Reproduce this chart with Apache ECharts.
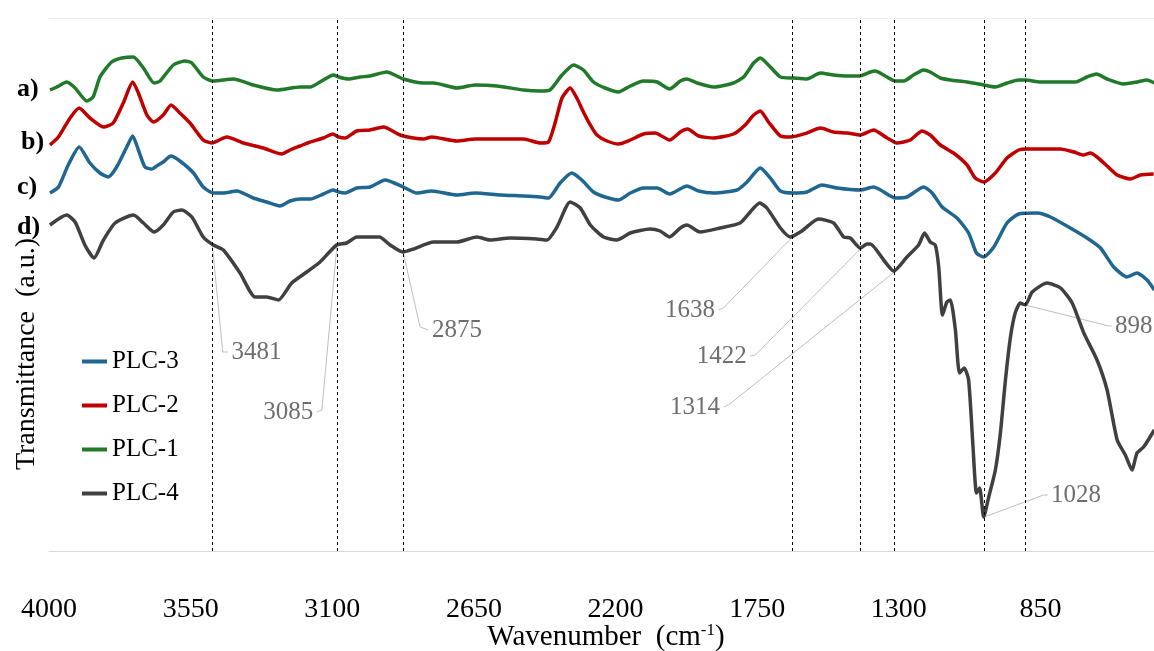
<!DOCTYPE html>
<html>
<head>
<meta charset="utf-8">
<script src="https://cdn.jsdelivr.net/npm/echarts@6/dist/echarts.min.js"></script>
<style>
  html, body { margin: 0; padding: 0; background: #fff; }
  #chart { width: 1154px; height: 651px; }
</style>
</head>
<body>
<div id="chart"></div>
<script>
// FTIR spectra, [wavenumber (cm-1), transmittance (a.u., offset)]
var plc1 = [[3997,461],[3975,464],[3944,469],[3917,463],[3880,450],[3860,454],[3838,474],[3801,489],[3768,493],[3732,494],[3700,483],[3666,468],[3647,470],[3605,486],[3568,490],[3546,488],[3510,474],[3478,470],[3414,472],[3351,466],[3276,461],[3202,464],[3170,464],[3139,469],[3096,476],[3080,474],[3049,472],[3011,474],[2980,475],[2927,479],[2874,472],[2810,468],[2778,468],[2704,463],[2646,466],[2577,465],[2492,461],[2439,460],[2408,461],[2370,476],[2333,486],[2302,481],[2270,469],[2233,463],[2190,459],[2153,465],[2111,470],[2068,469],[2028,462],[1994,470],[1973,472],[1941,468],[1888,464],[1825,468],[1793,474],[1761,488],[1740,493],[1708,484],[1676,474],[1634,473],[1592,472],[1549,478],[1507,476],[1464,475],[1424,475],[1390,479],[1374,480],[1348,476],[1311,470],[1284,470],[1253,476],[1221,481],[1200,479],[1168,473],[1136,471],[1083,469],[1030,466],[993,464],[956,468],[919,471],[898,471],[850,469],[797,469],[739,469],[702,474],[672,477],[638,472],[585,467],[543,469],[511,471],[488,468]];

var plc2 = [[3997,406],[3970,414],[3933,433],[3904,443],[3870,433],[3827,424],[3796,428],[3764,448],[3734,469],[3716,458],[3689,436],[3668,429],[3637,436],[3612,446],[3584,438],[3552,428],[3510,411],[3483,408],[3435,414],[3382,408],[3319,403],[3260,397],[3234,401],[3202,405],[3170,409],[3128,413],[3098,417],[3080,414],[3059,413],[3022,420],[2980,421],[2937,424],[2884,416],[2842,413],[2810,412],[2784,414],[2704,410],[2646,412],[2566,412],[2492,412],[2439,408],[2413,409],[2392,428],[2370,453],[2344,463],[2323,453],[2302,439],[2280,426],[2259,416],[2227,410],[2190,407],[2153,411],[2111,417],[2074,418],[2028,411],[1994,419],[1971,422],[1936,415],[1888,413],[1825,417],[1788,426],[1761,436],[1740,440],[1714,429],[1676,415],[1645,414],[1592,418],[1549,423],[1507,419],[1464,418],[1422,416],[1380,421],[1337,413],[1306,408],[1263,411],[1226,420],[1200,416],[1168,406],[1126,398],[1083,386],[1057,373],[1030,369],[993,378],[956,393],[919,401],[892,402],[840,402],[786,402],[744,399],[712,396],[691,398],[670,394],[638,385],[606,376],[564,372],[532,376],[490,377]];

var plc3 = [[3997,358],[3970,364],[3939,386],[3904,404],[3870,388],[3838,378],[3812,374],[3785,384],[3753,404],[3734,415],[3716,401],[3695,384],[3674,382],[3653,386],[3637,389],[3613,395],[3584,390],[3541,378],[3510,364],[3478,358],[3446,358],[3403,360],[3351,353],[3308,349],[3266,345],[3234,350],[3202,352],[3170,352],[3128,357],[3098,361],[3080,359],[3059,358],[3022,363],[2980,364],[2932,371],[2874,364],[2831,358],[2784,360],[2704,356],[2646,358],[2566,356],[2492,355],[2439,354],[2413,353],[2376,368],[2339,378],[2307,371],[2270,359],[2233,354],[2190,351],[2153,358],[2111,363],[2068,363],[2028,357],[1973,365],[1936,360],[1888,358],[1814,361],[1782,369],[1740,383],[1708,373],[1676,360],[1634,358],[1592,359],[1544,366],[1496,363],[1422,361],[1380,364],[1358,361],[1311,353],[1274,354],[1221,364],[1194,358],[1162,344],[1115,333],[1078,318],[1053,298],[1030,294],[998,304],[956,328],[919,337],[860,338],[818,334],[755,323],[702,313],[659,303],[617,284],[575,274],[543,278],[511,271],[488,261]];

var plc4 = [[3997,326],[3944,336],[3917,329],[3886,306],[3857,293],[3827,311],[3790,328],[3732,336],[3700,328],[3666,319],[3637,326],[3605,339],[3578,341],[3546,334],[3510,314],[3478,306],[3446,301],[3393,278],[3345,254],[3308,254],[3271,251],[3229,268],[3181,279],[3139,289],[3086,306],[3054,308],[3022,314],[2990,314],[2950,314],[2916,306],[2876,299],[2842,302],[2778,309],[2704,309],[2641,314],[2598,311],[2535,313],[2450,312],[2418,311],[2386,324],[2344,349],[2312,343],[2280,326],[2238,314],[2196,311],[2153,318],[2090,322],[2058,320],[2028,314],[1994,323],[1973,326],[1931,319],[1867,323],[1804,328],[1772,339],[1742,348],[1719,343],[1676,323],[1645,314],[1608,320],[1555,332],[1507,328],[1475,314],[1454,313],[1422,303],[1401,307],[1390,307],[1348,291],[1316,280],[1274,294],[1237,306],[1218,318],[1200,309],[1184,306],[1173,284],[1161,236],[1147,249],[1136,251],[1120,221],[1107,178],[1092,183],[1078,171],[1064,104],[1053,58],[1043,63],[1030,34],[1014,54],[993,81],[977,118],[961,171],[945,214],[930,238],[914,248],[898,246],[876,259],[829,268],[786,263],[749,248],[712,218],[670,191],[638,161],[606,111],[580,96],[559,81],[543,98],[522,104],[488,121]];

// marked bands
var peakLines = [3481, 3085, 2875, 1638, 1422, 1314, 1028, 898];
var annoText = ['3481', '3085', '2875', '1638', '1422', '1314', '1028', '898'];
var annoPeak = [[3481,306],[3085,306],[2875,299],[1638,314],[1422,302],[1314,279],[1028,34],[898,246]];
var annoBend = [[3448,199],[3133,141],[2821,224],[1857,243],[1756,196],[1841,146],[840,56],[633,225]];
var annoEnd = [[3431,199],[3149,139],[2794,221],[1873,241],[1772,195],[1857,144],[827,56],[624,225]];
var annoSide = ['right', 'left', 'right', 'left', 'left', 'left', 'right', 'right'];

var serif = "'Liberation Serif', 'Times New Roman', serif";
var chart = echarts.init(document.getElementById('chart'));

function spectrum(name, color, data, extra) {
  var s = {
    name: name,
    type: 'line',
    data: data,
    showSymbol: false,
    smooth: 0.2,
    lineStyle: { color: color, width: 3.5 },
    itemStyle: { color: color },
    emphasis: { disabled: true },
    z: 3
  };
  return Object.assign(s, extra || {});
}

var series = [
  spectrum('PLC-3', '#1f6790', plc3, {
    markLine: {
      silent: true,
      symbol: ['none', 'none'],
      label: { show: false },
      lineStyle: { color: '#000', type: [3, 3], width: 1 },
      data: peakLines.map(function (v) { return { xAxis: v }; })
    }
  }),
  spectrum('PLC-2', '#c00000', plc2),
  spectrum('PLC-1', '#21792a', plc1),
  spectrum('PLC-4', '#404040', plc4)
];

// leader lines for the band labels
annoText.forEach(function (t, i) {
  series.push({
    type: 'line',
    data: [annoPeak[i], annoBend[i], annoEnd[i]],
    symbol: 'none',
    silent: true,
    lineStyle: { color: '#bfbfbf', width: 1 },
    z: 2
  });
});

series.push({
  type: 'scatter',
  symbolSize: 1,
  silent: true,
  itemStyle: { color: 'rgba(0,0,0,0)' },
  label: {
    show: true,
    formatter: '{b}',
    fontFamily: serif,
    fontSize: 25,
    color: '#4a4a4a',
    distance: 3
  },
  data: annoText.map(function (t, i) {
    return { name: t, value: annoEnd[i], label: { position: annoSide[i] } };
  })
});

chart.setOption({
  animation: false,
  backgroundColor: '#fff',
  grid: { left: 49, top: 18, width: 1133, height: 533, outerBoundsMode: 'none', containLabel: false },
  legend: {
    data: ['PLC-3', 'PLC-2', 'PLC-1', 'PLC-4'],
    orient: 'vertical',
    left: 77,
    top: 344,
    icon: 'rect',
    itemWidth: 25,
    itemHeight: 4,
    itemGap: 19,
    textStyle: { fontFamily: serif, fontSize: 25, color: '#000', lineHeight: 25 }
  },
  xAxis: {
    type: 'value',
    inverse: true,
    min: 400,
    max: 4000,
    interval: 450,
    axisLine: { lineStyle: { color: '#d9d9d9', width: 1 } },
    axisTick: { show: false },
    splitLine: { show: false },
    axisLabel: {
      fontFamily: serif, fontSize: 28, color: '#000', margin: 45,
      formatter: function (v) { return String(v); }
    }
  },
  yAxis: {
    type: 'value',
    min: 0,
    max: 533,
    interval: 533,
    axisLine: { show: false },
    axisTick: { show: false },
    axisLabel: { show: false },
    splitLine: { lineStyle: { color: '#eeeeee' } }
  },
  graphic: [
    { type: 'text', x: 17, y: 89, style: { text: 'a)', font: 'bold 26px ' + serif, fill: '#000', verticalAlign: 'middle' } },
    { type: 'text', x: 21, y: 142, style: { text: 'b)', font: 'bold 26px ' + serif, fill: '#000', verticalAlign: 'middle' } },
    { type: 'text', x: 17, y: 187, style: { text: 'c)', font: 'bold 26px ' + serif, fill: '#000', verticalAlign: 'middle' } },
    { type: 'text', x: 17, y: 227, style: { text: 'd)', font: 'bold 26px ' + serif, fill: '#000', verticalAlign: 'middle' } },
    {
      type: 'text', x: 27, y: 354, rotation: Math.PI / 2,
      style: { text: 'Transmittance  (a.u.)', font: '28px ' + serif, fill: '#000', align: 'center', verticalAlign: 'middle' }
    },
    {
      type: 'text', x: 606, y: 637,
      style: {
        text: 'Wavenumber  (cm{sup|-1})',
        font: '29px ' + serif,
        fill: '#000',
        align: 'center',
        verticalAlign: 'middle',
        rich: { sup: { fontSize: 17, fontFamily: serif, verticalAlign: 'top', lineHeight: 29 } }
      }
    }
  ],
  series: series
});
</script>
</body>
</html>
